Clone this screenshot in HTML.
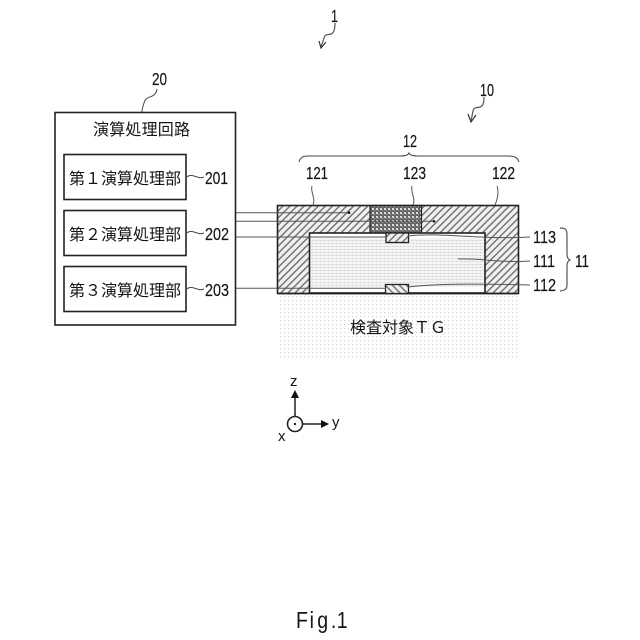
<!DOCTYPE html>
<html><head><meta charset="utf-8"><style>html,body{margin:0;padding:0;background:#fff}svg{display:block}
text{font-family:"Liberation Sans","Noto Sans CJK JP",sans-serif;fill:#151515}
.c{font-size:16px}.n{font-size:17.5px;stroke:#151515;stroke-width:.2}</style></head><body>
<svg xmlns="http://www.w3.org/2000/svg" width="640" height="640" viewBox="0 0 640 640">
<defs>
<pattern id="h1" width="5" height="5" patternUnits="userSpaceOnUse" patternTransform="rotate(45)"><rect width="5" height="5" fill="#f0f0f0"/><rect width="1.5" height="5" fill="#777"/></pattern>
<pattern id="h2" width="5" height="5" patternUnits="userSpaceOnUse" patternTransform="rotate(-45)"><rect width="5" height="5" fill="#f0f0f0"/><rect width="1.5" height="5" fill="#777"/></pattern>
<pattern id="x" width="4" height="4" patternUnits="userSpaceOnUse"><rect width="4" height="4" fill="#666"/><rect x="0" y="0" width="2" height="2" fill="#ddd"/><rect x="2" y="2" width="1" height="1" fill="#aaa"/></pattern>
<pattern id="d" width="4" height="4" patternUnits="userSpaceOnUse"><rect width="4" height="4" fill="#fff"/><rect width="1.2" height="1.2" fill="#d6d6d6"/></pattern>
<pattern id="s" width="4" height="3" patternUnits="userSpaceOnUse"><rect width="4" height="3" fill="#f4f4f4"/><rect width="4" height="1" fill="#e6e6e6"/><rect width="1" height="1" fill="#cfcfcf"/></pattern>
</defs>
<rect width="640" height="640" fill="#fff"/>

<!-- top reference 1 -->
<text x="331" y="22" class="n" textLength="7" lengthAdjust="spacingAndGlyphs">1</text>
<path d="M335 23 C335 29 334 33 331 34 C327 35 325 34 324 38 L321 47" fill="none" stroke="#555" stroke-width="1.2"/>
<path d="M319 41 L321 48 L326 42" fill="none" stroke="#333" stroke-width="1.2"/>

<!-- 10 -->
<text x="480" y="96" class="n" textLength="14" lengthAdjust="spacingAndGlyphs">10</text>
<path d="M484 97 C484 103 483 106 480 107 C476 108 474 107 473 111 L471 121" fill="none" stroke="#555" stroke-width="1.2"/>
<path d="M468 114 L471 122 L476 115" fill="none" stroke="#333" stroke-width="1.2"/>

<!-- 20 -->
<text x="152" y="85" class="n" textLength="15" lengthAdjust="spacingAndGlyphs">20</text>
<path d="M157 89 C155 100 146 94 144 103 C143 106 142 109 142 112" fill="none" stroke="#444"/>

<!-- circuit box -->
<rect x="55" y="112.5" width="180.5" height="212.5" fill="#fff" stroke="#222" stroke-width="1.6"/>
<text x="93" y="135" class="c" textLength="97">演算処理回路</text>
<rect x="64" y="154.5" width="122" height="45" fill="#fff" stroke="#222" stroke-width="1.6"/>
<rect x="64" y="210.5" width="122" height="45" fill="#fff" stroke="#222" stroke-width="1.6"/>
<rect x="64" y="266.5" width="122" height="45" fill="#fff" stroke="#222" stroke-width="1.6"/>
<text x="69" y="184" class="c" textLength="112">第１演算処理部</text>
<text x="69" y="240" class="c" textLength="112">第２演算処理部</text>
<text x="69" y="296" class="c" textLength="112">第３演算処理部</text>
<path d="M187 177 C192 172 197 180 204 177 M187 233 C192 228 197 236 204 233 M187 289 C192 284 197 292 204 289" fill="none" stroke="#444"/>
<text x="205" y="184" class="n" textLength="23" lengthAdjust="spacingAndGlyphs">201</text>
<text x="205" y="240" class="n" textLength="24" lengthAdjust="spacingAndGlyphs">202</text>
<text x="205" y="296" class="n" textLength="24" lengthAdjust="spacingAndGlyphs">203</text>

<!-- target -->
<rect x="280" y="296" width="240" height="64" fill="url(#d)"/>
<text x="350" y="333" class="c" textLength="96">検査対象ＴＧ</text>

<!-- sensor body -->
<rect x="277.5" y="205.5" width="241" height="88" fill="url(#h1)" stroke="#222" stroke-width="1.6"/>
<rect x="370" y="205.5" width="51.5" height="27.5" fill="url(#x)" stroke="#222" stroke-width="1.2"/>
<rect x="309.5" y="233" width="175.5" height="60" fill="url(#s)" stroke="#222" stroke-width="1.6"/>
<rect x="310.5" y="287" width="173.5" height="5" fill="#fff"/>
<rect x="310.5" y="234" width="173.5" height="4" fill="#fff"/>
<path d="M278 293.5H518" stroke="#222" stroke-width="1.6"/>
<rect x="386" y="233" width="22.5" height="9.5" fill="url(#h1)" stroke="#222" stroke-width="1.3"/>
<rect x="385.5" y="284.5" width="23" height="9" fill="url(#h2)" stroke="#222" stroke-width="1.3"/>

<!-- wires -->
<path d="M236 212.7H349 M236 221.3H434 M236 237H386 M236 288.3H386" fill="none" stroke="#555" stroke-width="1"/>
<circle cx="349" cy="212.7" r="1.3" fill="#111"/>
<circle cx="434" cy="221.3" r="1.3" fill="#111"/>

<!-- brace 12 -->
<text x="403" y="147" class="n" textLength="14" lengthAdjust="spacingAndGlyphs">12</text>
<path d="M299 162 C301 155 306 156 312 156 H400 C406 156 408 155 409 153 C410 155 412 156 418 156 H506 C513 156 517 156 519 162" fill="none" stroke="#444"/>
<text x="306" y="179" class="n" textLength="22" lengthAdjust="spacingAndGlyphs">121</text>
<text x="403" y="179" class="n" textLength="23" lengthAdjust="spacingAndGlyphs">123</text>
<text x="492" y="179" class="n" textLength="23" lengthAdjust="spacingAndGlyphs">122</text>
<path d="M312 186 C310 192 316 198 313 205 M412 186 C410 192 416 198 413 205 M497 186 C499 192 498 198 495 205" fill="none" stroke="#555"/>

<!-- right labels -->
<path d="M408 236 C440 232 480 240 530 237 M458 259 C480 258 500 263 530 261 M408 287 C440 283 490 284 530 285" fill="none" stroke="#555"/>
<text x="533" y="243" class="n" textLength="23" lengthAdjust="spacingAndGlyphs">113</text>
<text x="533" y="267" class="n" textLength="22" lengthAdjust="spacingAndGlyphs">111</text>
<text x="533" y="291" class="n" textLength="23" lengthAdjust="spacingAndGlyphs">112</text>
<path d="M560 228 C566 228 567 230 567 235 V253 C567 258 568 259 570 260 C568 261 567 262 567 267 V284 C567 289 566 290 560 291" fill="none" stroke="#555" stroke-width="1.2"/>
<text x="575" y="267" class="n" textLength="14" lengthAdjust="spacingAndGlyphs">11</text>

<!-- axes -->
<circle cx="295" cy="424" r="7.5" fill="#fff" stroke="#222" stroke-width="1.6"/>
<circle cx="295" cy="424" r="1.2" fill="#222"/>
<path d="M295 416V396 M303 424H322" stroke="#222" stroke-width="1.5"/>
<path d="M295 390L291 398H299Z M329 424L321 420V428Z" fill="#111"/>
<text x="290" y="386" font-size="15">z</text>
<text x="332" y="427" font-size="15">y</text>
<text x="278" y="441" font-size="15">x</text>

<!-- caption -->
<text transform="translate(296 628) scale(.85 1)" font-size="23" x="0 16 25 41 48">Fig.1</text>
</svg>
</body></html>
